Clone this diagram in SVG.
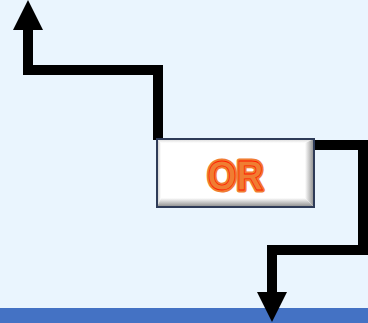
<svg xmlns="http://www.w3.org/2000/svg" width="368" height="323" viewBox="0 0 368 323">
<style>
.wire{fill:none;stroke:#000;stroke-width:10;stroke-linejoin:miter}
.head{fill:#000}
.lbl{font-family:"Liberation Sans",Arial,sans-serif;font-weight:bold;font-size:42px;text-anchor:middle}
</style>
<defs>
<linearGradient id="gR" x1="0" y1="0" x2="1" y2="0"><stop offset="0" stop-color="#ffffff"/><stop offset="1" stop-color="#8a8a8a"/></linearGradient>
<linearGradient id="gB" x1="0" y1="0" x2="0" y2="1"><stop offset="0" stop-color="#ffffff"/><stop offset="1" stop-color="#8a8a8a"/></linearGradient>
<linearGradient id="gL" x1="1" y1="0" x2="0" y2="0"><stop offset="0" stop-color="#ffffff"/><stop offset="1" stop-color="#c8c8c8"/></linearGradient>
<linearGradient id="gT" x1="0" y1="1" x2="0" y2="0"><stop offset="0" stop-color="#ffffff"/><stop offset="1" stop-color="#d8d8d8"/></linearGradient>
</defs>
<rect x="0" y="0" width="368" height="323" fill="#EAF5FE"/>
<rect x="0" y="308" width="368" height="15" fill="#4472C4"/>
<g id="connectors">
<polyline class="wire" points="158,140 158,70 28,70 28,28"/>
<polygon class="head" points="13,30 43,30 28,0"/>
<polyline class="wire" points="312,145 363,145 363,250 272,250 272,294"/>
<polygon class="head" points="257,292 287,292 272,322"/>
</g>
<g id="node-or">
<rect x="157" y="139" width="157" height="68" fill="#ffffff"/>
<polygon points="157,139 314,139 305,143 161,143" fill="url(#gT)"/>
<polygon points="157,139 161,143 161,198 157,207" fill="url(#gL)"/>
<polygon points="314,139 314,207 305,198 305,143" fill="url(#gR)"/>
<polygon points="157,207 314,207 305,198 161,198" fill="url(#gB)"/>
<rect x="157" y="139" width="157" height="68" fill="none" stroke="#2E3B58" stroke-width="2"/>
<text class="lbl" x="235.5" y="190" textLength="56" lengthAdjust="spacingAndGlyphs" fill="#F07D32" stroke="#F07D32" stroke-width="5" stroke-linejoin="round">OR</text>
<text class="lbl" x="235.5" y="190" textLength="56" lengthAdjust="spacingAndGlyphs" fill="#F07D32" stroke="#FF2000" stroke-width="0.8">OR</text>
</g>
</svg>
